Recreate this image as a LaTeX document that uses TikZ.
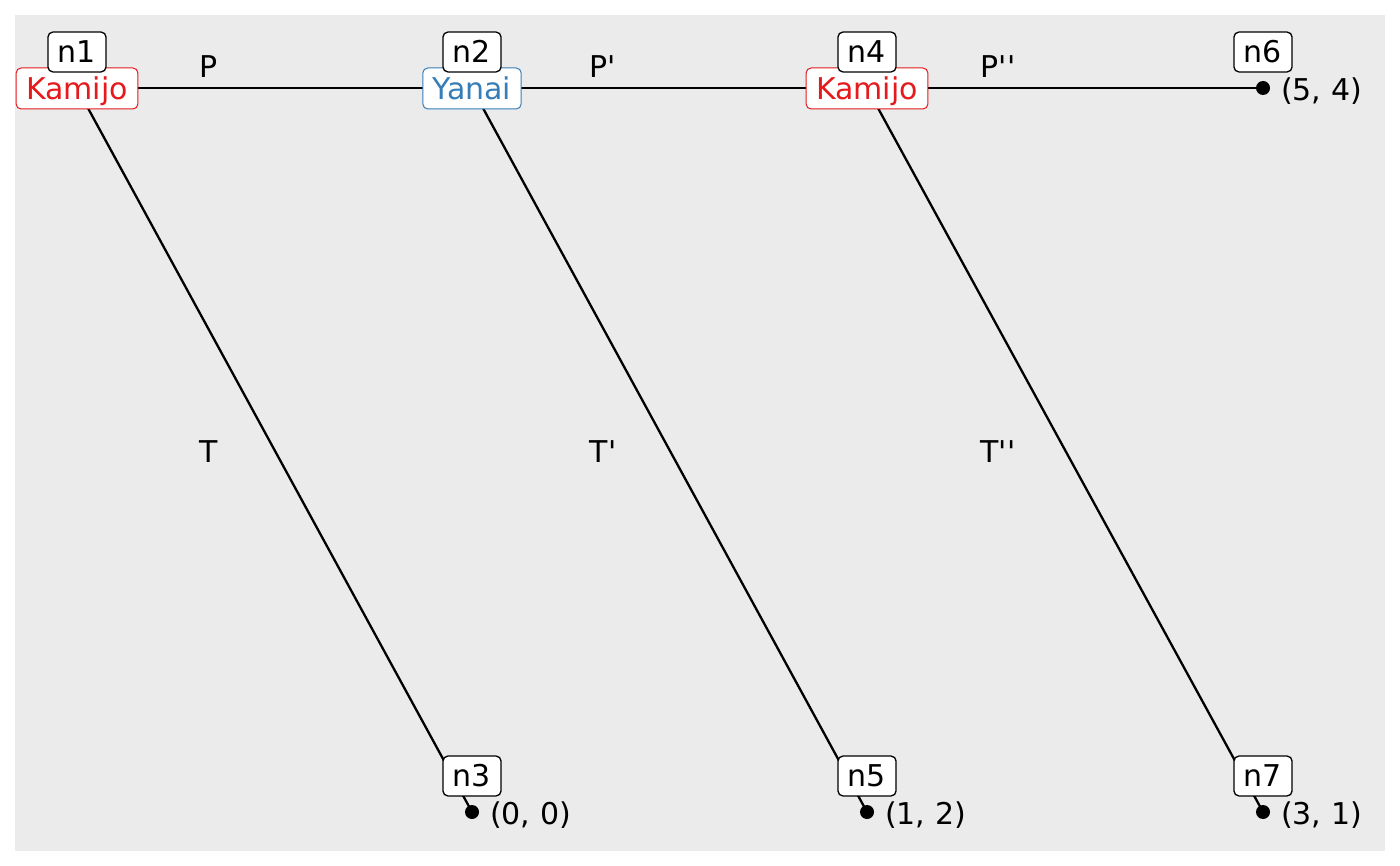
\documentclass[tikz,border=0pt]{standalone}
\usepackage{fontspec}
\setmainfont{DejaVu Sans}
\definecolor{panel}{HTML}{EBEBEB}
\definecolor{kred}{HTML}{E41A1C}
\definecolor{yblue}{HTML}{377EB8}
\newcommand{\sq}{\textquotesingle}
\begin{document}
\begin{tikzpicture}[x=1pt,y=-1pt,
  txt/.style={font=\fontsize{30}{36}\selectfont, text height=21.9pt, text depth=0pt},
  tag/.style={txt, draw=black, fill=white, rounded corners=5pt, line width=1.3pt, inner xsep=10pt, inner ysep=9pt},
  player/.style={tag, line width=1pt, minimum height=41pt},
  edge/.style={line width=2.3pt, black},
  lbl/.style={txt, inner sep=0pt},
  dot/.style={circle, fill=black, inner sep=0pt, minimum size=14pt}]
\useasboundingbox (0,0) rectangle (1400,866);
\fill[white] (0,0) rectangle (1400,866);
\fill[panel] (15,15) rectangle (1385,851);
% positions
\coordinate (n1) at (77,88);
\coordinate (n2) at (472,88);
\coordinate (n4) at (867,88);
\coordinate (n6) at (1263,88);
\coordinate (n3) at (472,812);
\coordinate (n5) at (867,812);
\coordinate (n7) at (1263,812);
% edges
\draw[edge] (n1) -- (n2);
\draw[edge] (n2) -- (n4);
\draw[edge] (n4) -- (n6);
\draw[edge] (n1) -- (n3);
\draw[edge] (n2) -- (n5);
\draw[edge] (n4) -- (n7);
% edge labels
\node[lbl] (eP) at (209,67) {P};
\node[lbl] (eP1) at (603,67) {P\sq};
\node[lbl] (eP2) at (998,67) {P\sq\sq};
\node[lbl] (eT) at (209,452) {T};
\node[lbl] (eT1) at (603,452) {T\sq};
\node[lbl] (eT2) at (998,452) {T\sq\sq};
% terminal dots
\node[dot] (d3) at (n3) {};
\node[dot] (d5) at (n5) {};
\node[dot] (d6) at (n6) {};
\node[dot] (d7) at (n7) {};
% payoffs
\node[lbl, anchor=west] (v3) at (490,814) {(0, 0)};
\node[lbl, anchor=west] (v5) at (885,814) {(1, 2)};
\node[lbl, anchor=west] (v7) at (1281,814) {(3, 1)};
\node[lbl, anchor=west] (v6) at (1281,90) {(5, 4)};
% players
\node[player, draw=kred, text=kred] (p1) at (77,88.5) {Kamijo};
\node[player, draw=yblue, text=yblue] (p2) at (472,88.5) {Yanai};
\node[player, draw=kred, text=kred] (p4) at (867,88.5) {Kamijo};
% name tags
\node[tag] (t1) at (77,52) {n1};
\node[tag] (t2) at (472,52) {n2};
\node[tag] (t4) at (867,52) {n4};
\node[tag] (t6) at (1263,52) {n6};
\node[tag] (t3) at (472,776) {n3};
\node[tag] (t5) at (867,776) {n5};
\node[tag] (t7) at (1263,776) {n7};
\end{tikzpicture}
\end{document}
